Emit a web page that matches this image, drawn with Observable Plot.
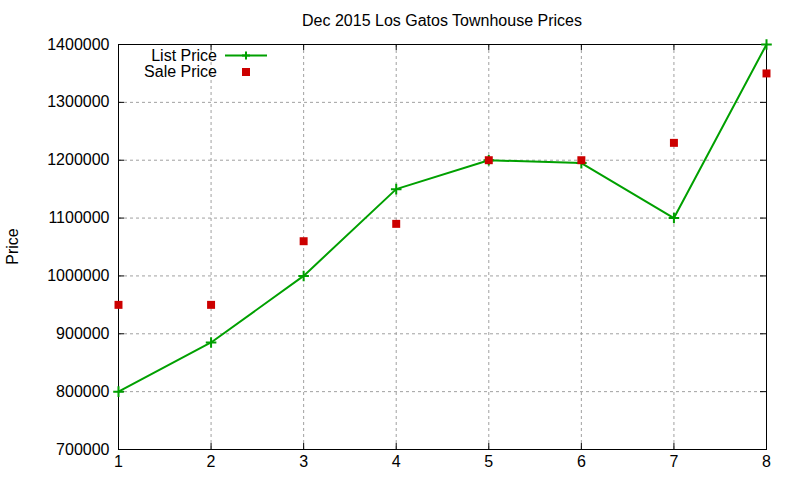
<!DOCTYPE html>
<html>
<head>
<meta charset="utf-8">
<script src="https://cdn.jsdelivr.net/npm/d3@7"></script>
<script src="https://cdn.jsdelivr.net/npm/@observablehq/plot@0.6"></script>
<style>
  html, body { margin: 0; padding: 0; background: #fff; }
  svg { display: block; }
</style>
</head>
<body>
<div id="chart"></div>
<script>
const title = "Dec 2015 Los Gatos Townhouse Prices";
const yLabel = "Price";
const seriesNames = ["List Price", "Sale Price"];
const xValues = [1, 2, 3, 4, 5, 6, 7, 8];
const listPrice = [800000, 885000, 1000000, 1150000, 1200000, 1195000, 1100000, 1400000];
const salePrice = [950000, 950000, 1060000, 1090000, 1200000, 1200000, 1230000, 1350000];
const yTicks = [700000, 800000, 900000, 1000000, 1100000, 1200000, 1300000, 1400000];
const xTicks = [1, 2, 3, 4, 5, 6, 7, 8];

const listData = xValues.map((x, i) => ({x, y: listPrice[i]}));
const saleData = xValues.map((x, i) => ({x, y: salePrice[i]}));

const W = 800, H = 480;
const mL = 118, mR = 34, mT = 44, mB = 31;
const fw = W - mL - mR, fh = H - mT - mB;
const green = "#00a000", red = "#cc0000";
const font = "'Liberation Sans', Arial, sans-serif";
const tk = 6;

const plot = Plot.plot({
  width: W, height: H,
  marginLeft: mL, marginRight: mR, marginTop: mT, marginBottom: mB,
  style: {fontFamily: font, fontSize: "16px", color: "#000", background: "#fff"},
  x: {domain: [1, 8], ticks: xTicks},
  y: {domain: [700000, 1400000], ticks: yTicks},
  marks: [
    Plot.gridX(xTicks, {stroke: "#a0a0a0", strokeOpacity: 1, strokeDasharray: "3,3"}),
    Plot.gridY(yTicks, {stroke: "#a0a0a0", strokeOpacity: 1, strokeDasharray: "3,3"}),
    // inward ticks on all four sides
    Plot.tickY(yTicks, {y: d => d, stroke: "#000", insetRight: fw - tk}),
    Plot.tickY(yTicks, {y: d => d, stroke: "#000", insetLeft: fw - tk}),
    Plot.tickX(xTicks, {x: d => d, stroke: "#000", insetTop: fh - tk}),
    Plot.tickX(xTicks, {x: d => d, stroke: "#000", insetBottom: fh - tk}),
    Plot.axisY(yTicks, {tickSize: 0, tickPadding: 9, tickFormat: d => String(d), label: null, fontSize: 16}),
    Plot.axisX(xTicks, {tickSize: 0, tickPadding: 6, tickFormat: d => String(d), label: null, fontSize: 16}),
    Plot.frame({stroke: "#000", strokeWidth: 1}),
    Plot.line(listData, {x: "x", y: "y", stroke: green, strokeWidth: 2}),
    Plot.dot(listData, {x: "x", y: "y", symbol: "plus", stroke: green, strokeWidth: 2, r: 3.5}),
    Plot.dot(saleData, {x: "x", y: "y", symbol: "square", fill: red, stroke: "none", r: 4.5})
  ]
});

const svg = d3.select(plot);
// title
svg.append("text")
  .attr("x", mL + fw / 2).attr("y", 26)
  .attr("text-anchor", "middle")
  .attr("font-family", font).attr("font-size", 16).attr("fill", "#000")
  .text(title);
// y label
svg.append("text")
  .attr("transform", `translate(18, ${mT + fh / 2}) rotate(-90)`)
  .attr("text-anchor", "middle")
  .attr("font-family", font).attr("font-size", 16).attr("fill", "#000")
  .text(yLabel);
// legend
const lg = svg.append("g").attr("font-family", font).attr("font-size", 16);
lg.append("text").attr("x", 217).attr("y", 61).attr("text-anchor", "end").attr("fill", "#000").text(seriesNames[0]);
lg.append("line").attr("x1", 225).attr("x2", 267).attr("y1", 55.5).attr("y2", 55.5).attr("stroke", green).attr("stroke-width", 2);
lg.append("path").attr("d", "M242,55.5h8M246,51.5v8").attr("stroke", green).attr("stroke-width", 2);
lg.append("text").attr("x", 217).attr("y", 77).attr("text-anchor", "end").attr("fill", "#000").text(seriesNames[1]);
lg.append("rect").attr("x", 242).attr("y", 68).attr("width", 8).attr("height", 8).attr("fill", red);

document.getElementById("chart").appendChild(plot);
</script>
</body>
</html>
